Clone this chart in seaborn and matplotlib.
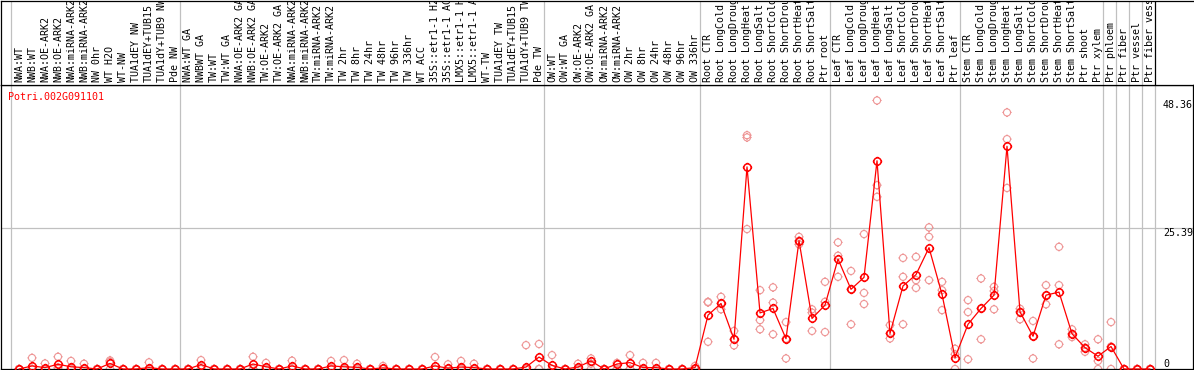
import numpy as np
import pandas as pd
import matplotlib
matplotlib.use("Agg")
import matplotlib.pyplot as plt
import seaborn as sns
from matplotlib.path import Path
from matplotlib.transforms import blended_transform_factory

# ---------------- data ----------------
categories = [
    "NWA:WT", "NWB:WT", "NWA:OE-ARK2", "NWB:OE-ARK2", "NWA:miRNA-ARK2", "NWB:miRNA-ARK2",
    "NW 0hr", "WT H2O", "WT-NW", "TUA1dEY NW", "TUA1dEY+TUB15", "TUA1dY+TUB9 NW", "Pde NW",
    "NWA:WT GA", "NWBWT GA", "TW:WT", "TW:WT GA", "NWA:OE-ARK2 GA", "NWB:OE-ARK2 GA",
    "TW:OE-ARK2", "TW:OE-ARK2 GA", "NWA:miRNA-ARK2", "NWB:miRNA-ARK2", "TW:miRNA-ARK2",
    "TW:miRNA-ARK2", "TW 2hr", "TW 8hr", "TW 24hr", "TW 48hr", "TW 96hr", "TW 336hr",
    "WT ACC", "35S::etr1-1 H2", "35S::etr1-1 AC", "LMX5::etr1-1 H", "LMX5::etr1-1 A",
    "WT-TW", "TUA1dEY TW", "TUA1dEY+TUB15", "TUA1dY+TUB9 TW", "Pde TW",
    "OW:WT", "OW:WT GA", "OW:OE-ARK2", "OW:OE-ARK2 GA", "OW:miRNA-ARK2", "OW:miRNA-ARK2",
    "OW 2hr", "OW 8hr", "OW 24hr", "OW 48hr", "OW 96hr", "OW 336hr",
    "Root CTR", "Root LongCold", "Root LongDroug", "Root LongHeat", "Root LongSalt",
    "Root ShortCold", "Root ShortDrou", "Root ShortHeat", "Root ShortSalt", "Ptr root",
    "Leaf CTR", "Leaf LongCold", "Leaf LongDroug", "Leaf LongHeat", "Leaf LongSalt",
    "Leaf ShortCold", "Leaf ShortDrou", "Leaf ShortHeat", "Leaf ShortSalt", "Ptr leaf",
    "Stem CTR", "Stem LongCold", "Stem LongDroug", "Stem LongHeat", "Stem LongSalt",
    "Stem ShortCold", "Stem ShortDrou", "Stem ShortHeat", "Stem ShortSalt", "Ptr shoot",
    "Ptr xylem", "Ptr phloem", "Ptr fiber", "Ptr vessel", "Ptr fiber vess",
]
group_sizes = [13, 28, 12, 10, 10, 11, 1, 1, 1, 1]

means = [
    0, 0.55, 0.25, 0.85, 0.4, 0.25, 0, 1.0, 0, 0, 0.25, 0, 0,
    0, 0.8, 0, 0, 0, 0.9, 0.4, 0, 0.55, 0, 0, 0.55, 0.4, 0.3, 0, 0.2, 0, 0,
    0, 0.55, 0.15, 0.35, 0.25, 0, 0, 0, 0.35, 2.15,
    0.65, 0, 0.35, 1.45, 0, 0.9, 1.15, 0.25, 0.25, 0, 0, 0.25,
    9.7, 11.8, 5.35, 36.4, 10.1, 10.9, 5.45, 23.1, 9.1, 11.5,
    19.8, 14.35, 16.5, 37.5, 6.4, 14.95, 17.0, 21.85, 13.45, 2.05,
    8.05, 10.9, 13.3, 40.1, 10.3, 5.9, 13.3, 13.85, 6.35, 3.85,
    2.3, 4.05, 0, 0, 0,
]
rep1 = [
    0, 2.0, 1.0, 2.2, 1.45, 0.95, 0, 1.55, 0, 0, 1.2, 0, 0,
    0, 1.6, 0, 0, 0, 2.2, 1.1, 0, 1.5, 0, 0, 1.45, 1.6, 0.95, 0, 0.55, 0, 0,
    0, 2.15, 0.85, 1.45, 0.95, 0, 0, 0, 4.3, 4.5,
    2.5, 0, 0.95, 1.9, 0, 1.1, 2.5, 1.1, 1.1, 0, 0, 0.55,
    12.1, 13.0, 6.85, 42.1, 14.2, 14.7, 8.45, 23.8, 10.75, 15.7,
    22.8, 17.65, 24.3, 48.36, 7.9, 20.0, 20.2, 25.5, 15.7, 3.65,
    12.4, 16.3, 14.8, 46.2, 10.85, 8.65, 15.1, 22.0, 7.15, 4.45,
    5.35, 8.45, 0, 0, 0,
]
rep2 = [
    0, 0, 0, 0.3, 0, 0, 0, 1.3, 0, 0, 0, 0, 0,
    0, 0, 0, 0, 0, 0, 0, 0, 0, 0, 0, 0, 0, 0, 0, 0, 0, 0,
    0, 0, 0, 0, 0, 0, 0, 0, 0, 0,
    0, 0, 0, 0.95, 0, 0, 0, 0, 0, 0, 0, 0,
    12.0, 10.75, 4.25, 41.7, 8.8, 11.95, 1.9, 22.45, 10.15, 12.1,
    20.4, 8.05, 13.7, 33.1, 5.5, 16.6, 16.0, 23.8, 14.2, 2.65,
    10.25, 5.35, 14.05, 41.4, 8.95, 1.9, 11.65, 15.1, 5.75, 3.1,
    1.45, 0, 0, 0, 0,
]
rep3 = [
    0, 0, 0, 0, 0, 0, 0, 0, 0, 0, 0, 0, 0,
    0, 0, 0, 0, 0, 0, 0, 0, 0, 0, 0, 0, 0, 0, 0, 0, 0, 0,
    0, 0, 0, 0, 0, 0, 0, 0, 0, 0,
    0, 0, 0, 0, 0, 0, 0, 0, 0, 0, 0, 0,
    4.9, 11.8, 5.35, 25.2, 7.15, 6.25, 5.45, 23.1, 6.85, 6.65,
    16.6, 14.35, 11.7, 31.0, 6.4, 8.05, 14.6, 16.0, 10.6, 0,
    1.75, 10.9, 10.75, 32.6, 10.3, 5.9, 13.3, 4.45, 6.35, 3.85,
    0, 4.05, 0, 0, 0,
]
title = "Potri.002G091101"
ytick_values = [0, 25.39, 48.36]
ytick_labels = ["0", "25.39", "48.36"]

# ---------------- style ----------------
sns.set_theme(style="white")
plt.rcParams["font.family"] = ["DejaVu Sans Mono", "DejaVu Sans"]

W, H = 1194, 370
fig = plt.figure(figsize=(W / 100, H / 100), dpi=100)
fig.patch.set_facecolor("white")

ax = fig.add_axes([1 / W, 1 / H, 1192 / W, 284 / H])
hx = fig.add_axes([1 / W, (H - 85) / H, 1192 / W, 84.5 / H])

pos = np.arange(len(categories))
xlim = (-1.385, -1.385 + 1192 / 13)
ymax = 284 / 5.553

grid_col = "#C0C0C0"
red = "#FF0000"
pink = "#EE9595"

# boundaries between groups
bounds = np.concatenate([[0], np.cumsum(group_sizes)]) - 0.6

# custom marker: ring with four small ticks
circ = Path.unit_circle()
ticks = Path(
    [(0, 1), (0, 1.3), (0, -1), (0, -1.3), (1, 0), (1.3, 0), (-1, 0), (-1.3, 0)],
    [Path.MOVETO, Path.LINETO] * 4,
)
ring = Path.make_compound_path(circ, ticks)

# data panel
for b in bounds:
    ax.axvline(b, color=grid_col, lw=0.9, zorder=0)
ax.axhline(ytick_values[1], color=grid_col, lw=0.9, zorder=0)

reps_df = pd.DataFrame({
    "pos": np.tile(pos, 3),
    "value": np.concatenate([rep1, rep2, rep3]),
})
sns.scatterplot(data=reps_df, x="pos", y="value", ax=ax, marker=ring, s=44,
                facecolor="none", edgecolor=pink, linewidth=0.8, zorder=2, clip_on=False)

mean_df = pd.DataFrame({"pos": pos, "mean": means})
sns.lineplot(data=mean_df, x="pos", y="mean", ax=ax, color=red, lw=0.9, zorder=3,
             marker=ring, markersize=6.8, markerfacecolor="none",
             markeredgecolor=red, markeredgewidth=1.1, clip_on=False)

ax.set_xlim(*xlim)
ax.set_ylim(0, ymax)
ax.set_xticks([])
ax.set_yticks([])
ax.set_xlabel("")
ax.set_ylabel("")
for s in ax.spines.values():
    s.set_color("black")
    s.set_linewidth(0.9)

trans = blended_transform_factory(ax.transAxes, ax.transData)
for v, lab in zip(ytick_values, ytick_labels):
    ax.text((1163 - 1) / 1192, v, lab, transform=trans, fontsize=7.2,
            va="bottom" if v == min(ytick_values) else "top", ha="left", color="black")

ax.text(7 / 1192, 1 - 7 / 284, title, transform=ax.transAxes, color=red,
        fontsize=7.2, va="top", ha="left")

# header panel
hx.set_xlim(*xlim)
hx.set_ylim(0, 84.5)
hx.set_xticks([])
hx.set_yticks([])
for b in bounds[:-1]:
    hx.axvline(b, color=grid_col, lw=0.9, zorder=0)
hx.axvline(bounds[-1], color="black", lw=0.9, zorder=1)
for p, lab in zip(pos, categories):
    hx.text(p, 2.5, lab, rotation=90, ha="center", va="bottom", fontsize=7.2,
            color="black", clip_on=True)
for side in ["left", "top", "bottom"]:
    hx.spines[side].set_color("black")
    hx.spines[side].set_linewidth(0.9)
hx.spines["right"].set_visible(False)

fig.savefig("out.png", dpi=100, facecolor="white")
